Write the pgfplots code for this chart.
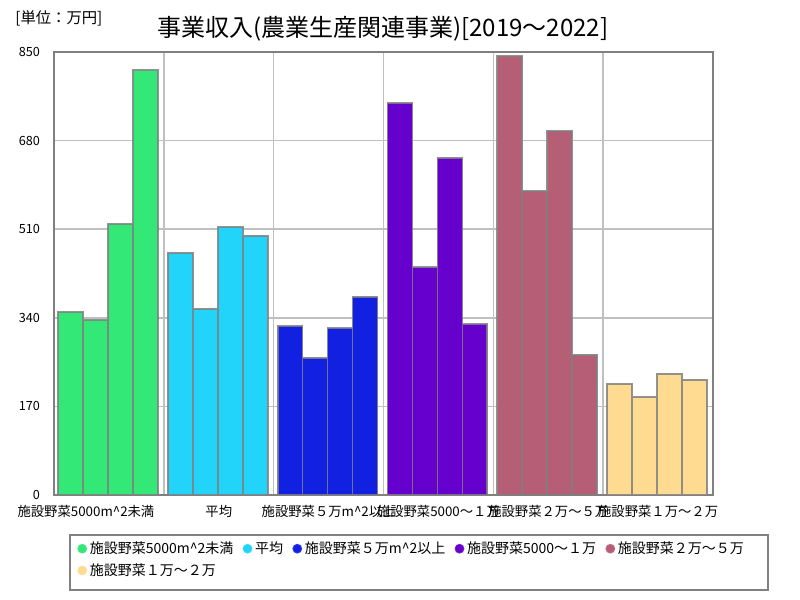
\documentclass[border=0pt]{standalone}
\usepackage{fontspec}
\setmainfont{Noto Sans CJK JP}
\usepackage{pgfplots}
\pgfplotsset{compat=1.18}
\definecolor{cA}{RGB}{51,232,119}
\definecolor{cB}{RGB}{34,212,250}
\definecolor{cC}{RGB}{18,32,225}
\definecolor{cD}{RGB}{102,0,204}
\definecolor{cE}{RGB}{181,94,117}
\definecolor{cF}{RGB}{255,219,145}
\definecolor{edge}{RGB}{128,128,128}
\definecolor{gridc}{RGB}{192,192,192}
\begin{document}
\begin{tikzpicture}[x=1pt,y=1pt]
\path (0,0) rectangle (600,-450);
\node[anchor=west,font=\fontsize{11.5}{13}\selectfont] at (8,-13.5) {[単位：万円]};
\node[font=\fontsize{18}{21}\selectfont] at (287,-21.5) {事業収入(農業生産関連事業)[2019～2022]};
\draw[edge, line width=1pt] (52.5,-401.25) rectangle (576,-442.5);
\begin{axis}[
  at={(40.5pt,-371.25pt)}, anchor=south west,
  scale only axis, width=494.25pt, height=332.25pt,
  xmin=0, xmax=26.4, ymin=0, ymax=850,
  ytick={0,170,340,510,680,850},
  xtick={0,4.4,8.8,13.2,17.6,22,26.4},
  xticklabels={},
  extra x ticks={1.28,6.6,11,15.4,19.8,24.2},
  extra x tick labels={施設野菜5000m\textasciicircum2未満,平均,施設野菜５万m\textasciicircum2以上,施設野菜5000～１万,施設野菜２万～５万,施設野菜１万～２万},
  extra x tick style={grid=none, major tick length=0pt},
  xmajorgrids, ymajorgrids,
  grid style={gridc, line width=1.1pt},
  axis line style={edge, line width=1.1pt},
  major tick length=0pt,
  tick label style={font=\fontsize{10}{12}\selectfont},
  yticklabel style={font=\fontsize{9.5}{11}\selectfont, xshift=-7pt},
  xticklabel style={yshift=-4pt},
  /pgf/number format/assume math mode=true,
  legend style={at={(0.031,-0.093)}, anchor=north west, draw=none, fill=none,
    font=\fontsize{10.5}{12}\selectfont, legend cell align=left, inner sep=2pt,
    /tikz/every even column/.append style={column sep=5pt},
    /tikz/row sep=2pt},
  legend columns=5,
]
\addplot[ybar, bar width=1, bar shift=0pt, fill=cA, draw=edge, draw opacity=0.85, line width=1.3pt,
  legend image code/.code={\fill[cA] (0.15cm,0) circle (3pt);}]
  coordinates {(0.66,351) (1.66,336) (2.66,520) (3.66,815)};
\addlegendentry{施設野菜5000m\textasciicircum2未満}
\addplot[ybar, bar width=1, bar shift=0pt, fill=cB, draw=edge, draw opacity=0.85, line width=1.3pt,
  legend image code/.code={\fill[cB] (0.15cm,0) circle (3pt);}]
  coordinates {(5.06,464) (6.06,357) (7.06,514) (8.06,497)};
\addlegendentry{平均}
\addplot[ybar, bar width=1, bar shift=0pt, fill=cC, draw=edge, draw opacity=0.85, line width=1.3pt,
  legend image code/.code={\fill[cC] (0.15cm,0) circle (3pt);}]
  coordinates {(9.46,324) (10.46,263) (11.46,320) (12.46,380)};
\addlegendentry{施設野菜５万m\textasciicircum2以上}
\addplot[ybar, bar width=1, bar shift=0pt, fill=cD, draw=edge, draw opacity=0.85, line width=1.3pt,
  legend image code/.code={\fill[cD] (0.15cm,0) circle (3pt);}]
  coordinates {(13.86,752) (14.86,437) (15.86,647) (16.86,328)};
\addlegendentry{施設野菜5000～１万}
\addplot[ybar, bar width=1, bar shift=0pt, fill=cE, draw=edge, draw opacity=0.85, line width=1.3pt,
  legend image code/.code={\fill[cE] (0.15cm,0) circle (3pt);}]
  coordinates {(18.26,842) (19.26,583) (20.26,698) (21.26,269)};
\addlegendentry{施設野菜２万～５万}
\addplot[ybar, bar width=1, bar shift=0pt, fill=cF, draw=edge, draw opacity=0.85, line width=1.3pt,
  legend image code/.code={\fill[cF] (0.15cm,0) circle (3pt);}]
  coordinates {(22.66,213) (23.66,188) (24.66,232) (25.66,221)};
\addlegendentry{施設野菜１万～２万}
\end{axis}
\end{tikzpicture}
\end{document}
